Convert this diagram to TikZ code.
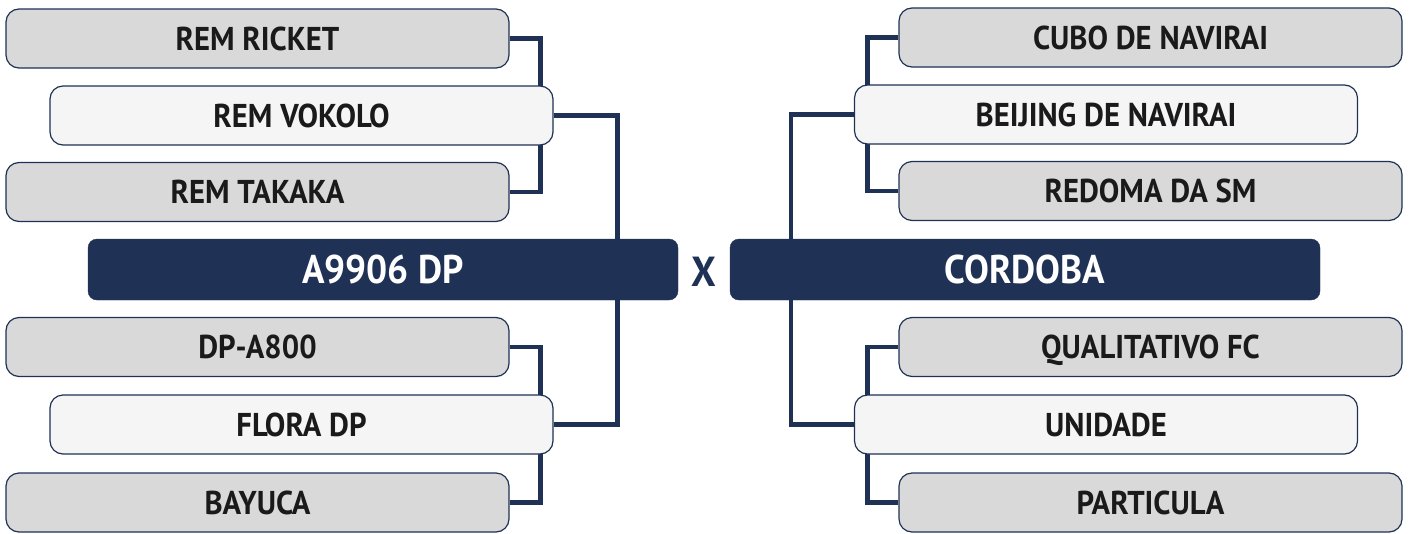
\documentclass[tikz,border=0pt]{standalone}
\usepackage{fontspec}
\setmainfont[FakeStretch=0.93]{PT Sans}
\usetikzlibrary{backgrounds}
\definecolor{navy}{HTML}{1F3155}
\definecolor{boxgrey}{HTML}{D9D9D9}
\definecolor{boxlight}{HTML}{F5F5F5}
\definecolor{txt}{HTML}{1A1A1A}
\begin{document}
\begin{tikzpicture}[x=1pt,y=-1pt,
  teambox/.style={draw=navy, line width=1.2pt, rounded corners=13pt, minimum height=59pt, inner sep=0pt,
    text depth=0pt, text=txt, font=\fontsize{33}{33}\selectfont\bfseries},
  greybox/.style={teambox, fill=boxgrey, minimum width=503pt},
  lightbox/.style={teambox, fill=boxlight, minimum width=503pt},
  mainbox/.style={draw=navy, fill=navy, rounded corners=9pt, minimum height=61pt, inner sep=0pt,
    text depth=0pt, text=white, font=\fontsize{40}{40}\selectfont\bfseries},
  link/.style={draw=navy, line width=4.5pt}]
\useasboundingbox (0,0) rectangle (1410,533);
% left side
\node[greybox]  (ricket) at (257.5,38.5) {REM RICKET};
\node[lightbox] (vokolo) at (301.5,115.5) {REM VOKOLO};
\node[greybox]  (takaka) at (257.5,192) {REM TAKAKA};
\node[mainbox, minimum width=590pt] (a9906) at (383,269.5) {A9906 DP};
\node[greybox]  (dpa800) at (257.5,347) {DP-A800};
\node[lightbox] (flora)  at (301.5,424.5) {FLORA DP};
\node[greybox]  (bayuca) at (257.5,502.5) {BAYUCA};
% right side
\node[greybox]  (cubo)    at (1150.5,37.5) {CUBO DE NAVIRAI};
\node[lightbox] (beijing) at (1106,114.5) {BEIJING DE NAVIRAI};
\node[greybox]  (redoma)  at (1150.5,191) {REDOMA DA SM};
\node[mainbox, minimum width=590pt] (cordoba) at (1025,269.5) {CORDOBA};
\node[greybox]  (quali)   at (1150.5,347) {QUALITATIVO FC};
\node[lightbox] (unidade) at (1106,424.5) {UNIDADE};
\node[greybox]  (part)    at (1150.5,502.5) {PARTICULA};
\node[text=navy, font=\fontsize{42}{42}\selectfont\bfseries] (vs) at (704,272) {X};
\begin{scope}[on background layer]
  \draw[link] (ricket.east) -- ++(31,0) |- (takaka.east);
  \draw[link] (dpa800.east) -- ++(31,0) |- (bayuca.east);
  \draw[link] (vokolo.east) -- ++(64,0) |- (flora.east);
  \draw[link] (cubo.west) -- ++(-31,0) |- (redoma.west);
  \draw[link] (quali.west) -- ++(-31,0) |- (part.west);
  \draw[link] (beijing.west) -- ++(-63,0) |- (unidade.west);
\end{scope}
\end{tikzpicture}
\end{document}
